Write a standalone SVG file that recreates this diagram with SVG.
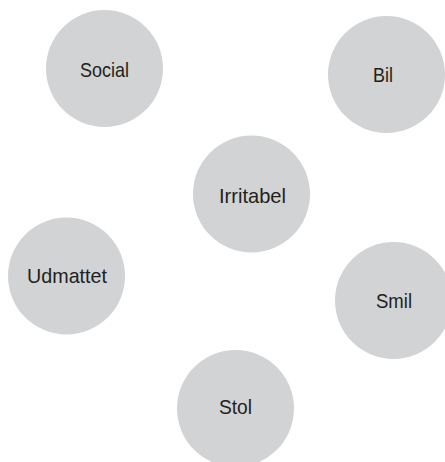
<svg xmlns="http://www.w3.org/2000/svg" width="445" height="462" viewBox="0 0 445 462">
<style>
.n{fill:#d1d3d4;stroke:none}
.t{font-family:"Liberation Sans Narrow","Liberation Sans",Arial,sans-serif;font-size:21px;fill:#231f20;text-anchor:middle}
</style>
<rect width="445" height="462" fill="#ffffff"/>
<g id="connectors"></g>
<g id="social"><circle class="n" cx="104.5" cy="68.5" r="58.5"/><text class="t" x="104.5" y="77" textLength="49" lengthAdjust="spacingAndGlyphs">Social</text></g>
<g id="bil"><circle class="n" cx="386.5" cy="74.5" r="58.5"/><text class="t" x="383" y="82" textLength="20" lengthAdjust="spacingAndGlyphs">Bil</text></g>
<g id="irritabel"><circle class="n" cx="251.5" cy="194" r="58.5"/><text class="t" x="252.5" y="203" textLength="67" lengthAdjust="spacingAndGlyphs">Irritabel</text></g>
<g id="udmattet"><circle class="n" cx="66.5" cy="276" r="58.5"/><text class="t" x="67" y="283" textLength="80" lengthAdjust="spacingAndGlyphs">Udmattet</text></g>
<g id="smil"><circle class="n" cx="393.5" cy="300.5" r="58.5"/><text class="t" x="394" y="308" textLength="36" lengthAdjust="spacingAndGlyphs">Smil</text></g>
<g id="stol"><circle class="n" cx="235.5" cy="408.5" r="58.5"/><text class="t" x="235.5" y="414" textLength="33" lengthAdjust="spacingAndGlyphs">Stol</text></g>
</svg>
